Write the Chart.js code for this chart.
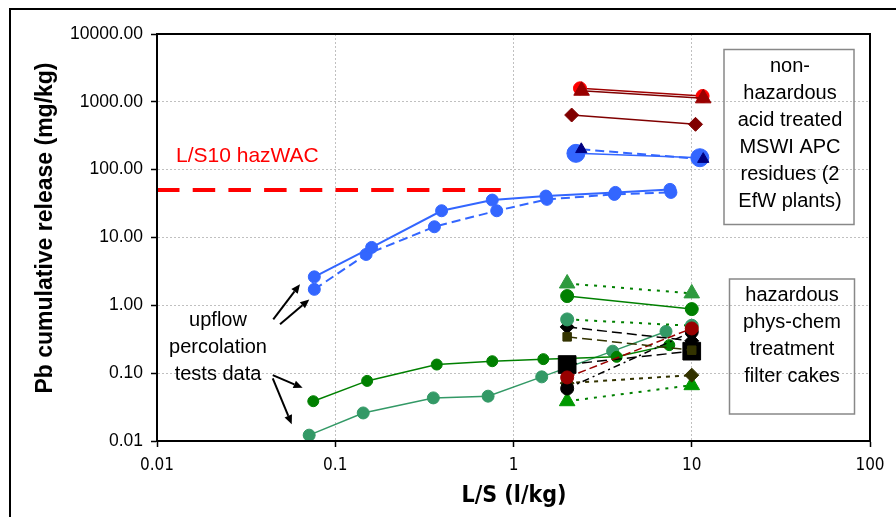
<!DOCTYPE html>
<html><head><meta charset="utf-8">
<script src="https://cdn.jsdelivr.net/npm/chart.js@4/dist/chart.umd.min.js"></script>
<style>html,body{margin:0;padding:0;background:#fff;}#wrap{width:896px;height:517px;}</style>
</head><body><div id="wrap"><canvas id="c" width="896" height="517"></canvas></div>
<script>
// ---- axis ticks ----
const xTickValues = [0.01, 0.1, 1, 10, 100];
const xTickLabels = ['0.01', '0.1', '1', '10', '100'];
const yTickValues = [0.01, 0.1, 1, 10, 100, 1000, 10000];
const yTickLabels = ['0.01', '0.10', '1.00', '10.00', '100.00', '1000.00', '10000.00'];

// ---- upflow percolation tests ----
const upBlueA_LS = [0.0763, 0.160, 0.395, 0.76, 1.52, 3.73, 7.55];
const upBlueA_Pb = [2.63, 7.14, 24.8, 35.6, 40.8, 46.2, 51.2];
const upBlueB_LS = [0.0763, 0.149, 0.36, 0.805, 1.54, 3.68, 7.64];
const upBlueB_Pb = [1.72, 5.63, 14.4, 24.8, 36.5, 43.2, 46.2];
const upGreenA_LS = [0.0753, 0.151, 0.371, 0.76, 1.47, 3.79, 7.48];
const upGreenA_Pb = [0.0386, 0.0769, 0.134, 0.150, 0.161, 0.174, 0.259];
const upGreenB_LS = [0.0714, 0.1435, 0.355, 0.72, 1.44, 3.6, 7.17];
const upGreenB_Pb = [0.0122, 0.0259, 0.0432, 0.0458, 0.0882, 0.211, 0.412];

// ---- non-hazardous acid treated MSWI APC residues ----
const apcRedCircleLS = [2.36, 11.5];   const apcRedCirclePb = [1581, 1218];
const apcRedTriLS = [2.41, 11.6];      const apcRedTriPb = [1458, 1126];
const apcDiamondLS = [2.12, 10.5];     const apcDiamondPb = [639, 466];
const apcBlueCircleLS = [2.24, 11.1];  const apcBlueCirclePb = [174, 150];
const apcNavyTriLS = [2.40, 11.6];     const apcNavyTriPb = [199.5, 143];

// ---- hazardous phys-chem treatment filter cakes ----
const cakeLS = [2.0, 10.0];
const cakeGreenTriA = [2.10, 1.50];
const cakeGreenCircle = [1.37, 0.88];
const cakeSeaCircle = [0.62, 0.50];
const cakeBlackDiamond = [0.48, 0.30];
const cakeOliveSquare = [0.343, 0.218];
const cakeBlackSquare = [0.134, 0.211];
const cakeRedCircle = [0.0865, 0.456];
const cakeBlackCircle = [0.0594, 0.407];
const cakeOliveDiamond = [0.0713, 0.0935];
const cakeGreenTriB = [0.0386, 0.0665];

// ---- L/S10 hazWAC limit ----
const wacLS = [0.01, 0.86];
const wacPb = [50, 50];

const ARIAL = "'Liberation Sans', Arial, sans-serif";
const TAHOMA = "'DejaVu Sans Condensed', 'DejaVu Sans', sans-serif";

function series(ls, pb, o) {
  return Object.assign({
    data: ls.map((x, i) => ({ x: x, y: pb[i] })),
    showLine: true, fill: false, tension: 0,
    borderWidth: 1.5, pointBorderWidth: 1,
    pointBackgroundColor: o.c, pointBorderColor: o.c, borderColor: o.lc || o.c,
    pointStyle: o.ps || 'circle', pointRadius: o.r || 6, borderDash: o.dash || []
  }, o.extra || {});
}

const BLUE = '#3366ff', GREEN = '#008000', SEA = '#339966', DRED = '#990000', OLIVE = '#333300';
const DOT = [3, 6], LDASH = [10, 5];

const datasets = [
  series(cakeLS, cakeOliveSquare, { c: OLIVE, ps: 'rect', r: 6, dash: LDASH }),
  series(cakeLS, cakeRedCircle, { c: DRED, r: 6.5, dash: [8, 4] }),
  series(cakeLS, cakeBlackCircle, { c: '#000', r: 6.5, dash: [7, 4, 2, 4] }),
  series(cakeLS, cakeBlackSquare, { c: '#000', ps: 'rect', r: 12.5, dash: LDASH }),
  series(cakeLS, cakeSeaCircle, { c: SEA, r: 6.5, lc: GREEN, dash: DOT, extra: { borderWidth: 2 } }),
  series(cakeLS, cakeBlackDiamond, { c: '#000', ps: 'rectRot', r: 7, dash: LDASH }),
  series(cakeLS, cakeGreenCircle, { c: GREEN, r: 6.5 }),
  series(cakeLS, cakeOliveDiamond, { c: OLIVE, ps: 'rectRot', r: 7, dash: [4, 5], extra: { borderWidth: 2 } }),
  series(cakeLS, cakeGreenTriA, { c: '#2e9a3e', lc: GREEN, ps: 'triangle', r: 9, dash: DOT, extra: { borderWidth: 2 } }),
  series(cakeLS, cakeGreenTriB, { c: '#009900', lc: GREEN, ps: 'triangle', r: 9, dash: DOT, extra: { borderWidth: 2 } }),
  series(upGreenA_LS, upGreenA_Pb, { c: GREEN, r: 5.5 }),
  series(upGreenB_LS, upGreenB_Pb, { c: SEA, r: 6 }),
  series(apcNavyTriLS, apcNavyTriPb, { c: '#000080', lc: BLUE, ps: 'triangle', r: 6.5, dash: [9, 5], extra: { borderWidth: 2 } }),
  series(apcBlueCircleLS, apcBlueCirclePb, { c: BLUE, r: 9 }),
  series(apcRedTriLS, apcRedTriPb, { c: DRED, lc: '#800000', ps: 'triangle', r: 9 }),
  series(apcRedCircleLS, apcRedCirclePb, { c: '#ff0000', lc: '#a00000', r: 6.5 }),
  series(apcDiamondLS, apcDiamondPb, { c: '#800000', ps: 'rectRot', r: 7 }),
  series(upBlueA_LS, upBlueA_Pb, { c: BLUE, r: 6, extra: { borderWidth: 2 } }),
  series(upBlueB_LS, upBlueB_Pb, { c: BLUE, r: 6, dash: [9, 5], extra: { borderWidth: 2 } }),
  series(wacLS, wacPb, { c: '#ff0000', r: 0, dash: [22.5, 13.2], extra: { borderWidth: 4, pointRadius: 0, borderCapStyle: 'butt' } })
];

// annotation arrows (tail -> head) in data coordinates
const arrows = [
  [[0.0449, 0.619], [0.0634, 2.05]],
  [[0.049, 0.528], [0.0715, 1.22]],
  [[0.0446, 0.0934], [0.0656, 0.0607]],
  [[0.0446, 0.0835], [0.057, 0.0177]]
];

const annot = {
  id: 'annot',
  afterDraw(chart) {
    const ctx = chart.ctx, a = chart.chartArea, xs = chart.scales.x, ys = chart.scales.y;
    ctx.save();
    // outer frame
    ctx.strokeStyle = '#000'; ctx.lineWidth = 2;
    ctx.strokeRect(10, 9, 920, 540);
    // plot border
    ctx.strokeRect(a.left, a.top, a.right - a.left, a.bottom - a.top);
    // arrows
    ctx.lineWidth = 2; ctx.fillStyle = '#000';
    arrows.forEach(([t, h]) => {
      const x1 = xs.getPixelForValue(t[0]), y1 = ys.getPixelForValue(t[1]);
      const x2 = xs.getPixelForValue(h[0]), y2 = ys.getPixelForValue(h[1]);
      const ang = Math.atan2(y2 - y1, x2 - x1), L = 9, W = 4;
      const bx = x2 - L * Math.cos(ang), by = y2 - L * Math.sin(ang);
      ctx.beginPath(); ctx.moveTo(x1, y1); ctx.lineTo(bx, by); ctx.stroke();
      ctx.beginPath(); ctx.moveTo(x2, y2);
      ctx.lineTo(bx + W * Math.sin(ang), by - W * Math.cos(ang));
      ctx.lineTo(bx - W * Math.sin(ang), by + W * Math.cos(ang));
      ctx.closePath(); ctx.fill();
    });
    // texts
    ctx.textBaseline = 'middle';
    ctx.fillStyle = '#ff0000'; ctx.textAlign = 'left';
    ctx.font = '21px ' + ARIAL;
    ctx.fillText('L/S10 hazWAC', 176, 156);
    ctx.fillStyle = '#000'; ctx.textAlign = 'center';
    ctx.font = '20px ' + ARIAL;
    ['upflow', 'percolation', 'tests data'].forEach((s, i) => ctx.fillText(s, 218, 320 + i * 27));
    // text boxes
    ctx.strokeStyle = '#888'; ctx.lineWidth = 1.5;
    ctx.strokeRect(724, 49.5, 130, 175);
    ctx.strokeRect(729.5, 279, 125, 135);
    ['non-', 'hazardous', 'acid treated', 'MSWI APC', 'residues (2', 'EfW plants)'].forEach((s, i) => ctx.fillText(s, 790, 66 + i * 27));
    ['hazardous', 'phys-chem', 'treatment', 'filter cakes'].forEach((s, i) => ctx.fillText(s, 792, 295 + i * 27.3));
    // axis titles
    ctx.font = 'bold 23px ' + TAHOMA;
    ctx.fillText('L/S (l/kg)', 514, 496);
    ctx.save();
    ctx.translate(46, 228); ctx.rotate(-Math.PI / 2);
    ctx.font = 'bold 23px ' + ARIAL;
    ctx.fillText('Pb cumulative release (mg/kg)', 0, 0);
    ctx.restore();
    ctx.restore();
  }
};

new Chart(document.getElementById('c'), {
  type: 'scatter',
  data: { datasets: datasets },
  options: {
    responsive: false, animation: false, devicePixelRatio: 1, events: [],
    layout: { padding: { left: 0, top: 34, right: 26, bottom: 0 } },
    plugins: { legend: { display: false }, tooltip: { enabled: false } },
    scales: {
      x: {
        type: 'logarithmic', min: 0.01, max: 100,
        afterBuildTicks: s => { s.ticks = xTickValues.map(v => ({ value: v })); },
        afterFit: s => { s.height = 76; },
        ticks: { callback: (v, i) => xTickLabels[i], autoSkip: false, maxRotation: 0, color: '#000',
                 padding: 8, font: { family: TAHOMA, size: 17 } },
        grid: { color: '#c0c0c0', lineWidth: 1, tickColor: '#000', tickLength: 6, tickWidth: 1.5 },
        border: { color: '#000', width: 2, dash: [2, 2] }
      },
      y: {
        type: 'logarithmic', min: 0.01, max: 10000,
        afterBuildTicks: s => { s.ticks = yTickValues.map(v => ({ value: v })); },
        afterFit: s => { s.width = 157; },
        ticks: { callback: (v, i) => yTickLabels[i], autoSkip: false, color: '#000',
                 padding: 8, font: { family: ARIAL, size: 17.5 } },
        grid: { color: '#c0c0c0', lineWidth: 1, tickColor: '#000', tickLength: 6, tickWidth: 1.5 },
        border: { color: '#000', width: 2, dash: [2, 2] }
      }
    }
  },
  plugins: [annot]
});
</script></body></html>
